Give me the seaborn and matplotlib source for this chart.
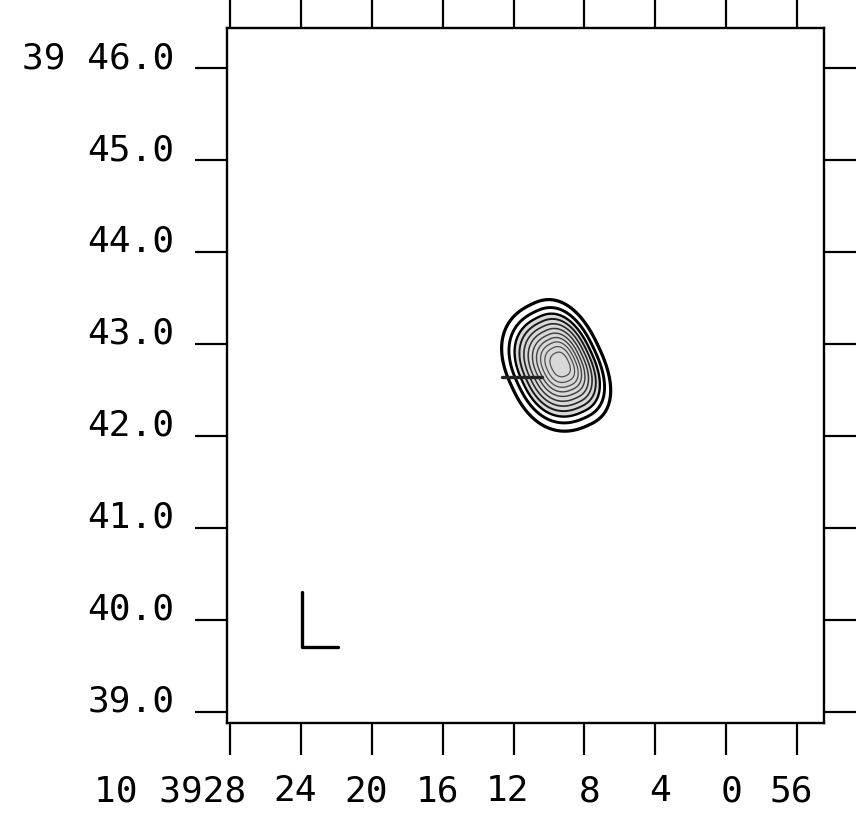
import numpy as np
import pandas as pd
import matplotlib
matplotlib.use("Agg")
import matplotlib.pyplot as plt
import seaborn as sns
from matplotlib.transforms import ScaledTranslation

# ---------------- data ----------------
# Right ascension: seconds of time relative to 10h39m00s (56 -> 10h38m56s = -4)
ra_ticks = [28, 24, 20, 16, 12, 8, 4, 0, -4]
ra_labels = ["10 3928", "24", "20", "16", "12", "8", "4", "0", "56"]
# Declination: arcminutes relative to +39d00'
dec_ticks = [46, 45, 44, 43, 42, 41, 40, 39]
dec_labels = ["39 46.0", "45.0", "44.0", "43.0", "42.0", "41.0", "40.0", "39.0"]

# Source model (peak position, widths in arcsec, position angle)
src_ra = 9.32          # seconds of RA (10h39m)
src_dec = 42.78        # arcmin (+39d)
src_sig_major = 17.8   # arcsec along PA
src_sig_minor_east = 14.4   # arcsec, east side (shallow)
src_sig_minor_west = 11.0   # arcsec, west side (steep)
src_pa = 25.0          # deg
src_shape_power = 2.4  # >2 gives slightly boxy contours
# contour levels (fraction of peak)
contour_levels = [0.05, 0.1, 0.16, 0.23, 0.31, 0.4, 0.5, 0.6, 0.7, 0.8, 0.9]

# Marker bar (optical position) and scale "L"
bar_ra = [12.65, 10.4]
bar_dec = [42.64, 42.64]
l_ra = [23.94, 23.94, 21.9]
l_dec = [40.30, 39.71, 39.71]

# ---------------- style ----------------
sns.set_style("white")
plt.rcParams["font.family"] = ["DejaVu Sans Mono", "DejaVu Sans"]

fig = plt.figure(figsize=(8.59, 8.21), dpi=100)
ax = fig.add_axes([0.2643, 0.1194, 0.695, 0.8465])

# ---------------- field ----------------
dec0 = np.deg2rad(39.72)
gx = np.linspace(-6, 29, 800)
gy = np.linspace(38.8, 46.5, 800)
X, Y = np.meshgrid(gx, gy)
dx = (X - src_ra) * 15.0 * np.cos(dec0)
dy = (Y - src_dec) * 60.0
p = np.deg2rad(src_pa)
u = dx * np.sin(p) + dy * np.cos(p)
v = dx * np.cos(p) - dy * np.sin(p)
sb = np.where(v > 0, src_sig_minor_east, src_sig_minor_west)
n = src_shape_power
q = (np.abs(u / src_sig_major) ** n + np.abs(v / sb) ** n) ** (2.0 / n)
Z = np.exp(-0.5 * q)

ax.contourf(X, Y, Z, levels=[contour_levels[2], 1.01], colors=["#d8d8d8"], zorder=1)
lws = [2.3, 2.1, 1.7, 1.4, 1.2, 1.1, 1.0, 1.0, 0.9, 0.9, 0.9]
cols = ["black", "black", "black", "#1a1a1a", "#2a2a2a", "#333333",
        "#3a3a3a", "#444444", "#4a4a4a", "#505050", "#555555"]
ax.contour(X, Y, Z, levels=contour_levels, colors=cols, linewidths=lws, zorder=2)

bar_df = pd.DataFrame({"ra": bar_ra, "dec": bar_dec})
sns.lineplot(data=bar_df, x="ra", y="dec", sort=False, estimator=None, color="#222222",
             linewidth=2.4, ax=ax, zorder=3)
l_df = pd.DataFrame({"ra": l_ra, "dec": l_dec})
sns.lineplot(data=l_df, x="ra", y="dec", sort=False, estimator=None, color="black",
             linewidth=2.4, ax=ax, zorder=3)

# ---------------- axes ----------------
ax.set_xlim(28.17, -5.52)
ax.set_ylim(38.88, 46.435)
ax.set_xlabel("")
ax.set_ylabel("")
ax.set_xticks(ra_ticks)
ax.set_xticklabels(ra_labels)
ax.set_yticks(dec_ticks)
ax.set_yticklabels(dec_labels)
for s in ax.spines.values():
    s.set_visible(True)
    s.set_linewidth(1.7)
    s.set_color("black")
ax.tick_params(axis="both", direction="out", length=23, width=1.6, color="black",
               bottom=True, left=True, top=True, right=True,
               labelbottom=True, labelleft=True, labeltop=False, labelright=False,
               labelsize=26, labelcolor="black")
ax.tick_params(axis="y", pad=15)
ax.tick_params(axis="x", pad=14)

off = ScaledTranslation(0.16, 0, fig.dpi_scale_trans)
for lab in ax.get_xticklabels():
    lab.set_horizontalalignment("right")
    lab.set_transform(lab.get_transform() + off)
for lab in ax.get_yticklabels():
    lab.set_verticalalignment("baseline")

fig.savefig("out.png", dpi=100)
